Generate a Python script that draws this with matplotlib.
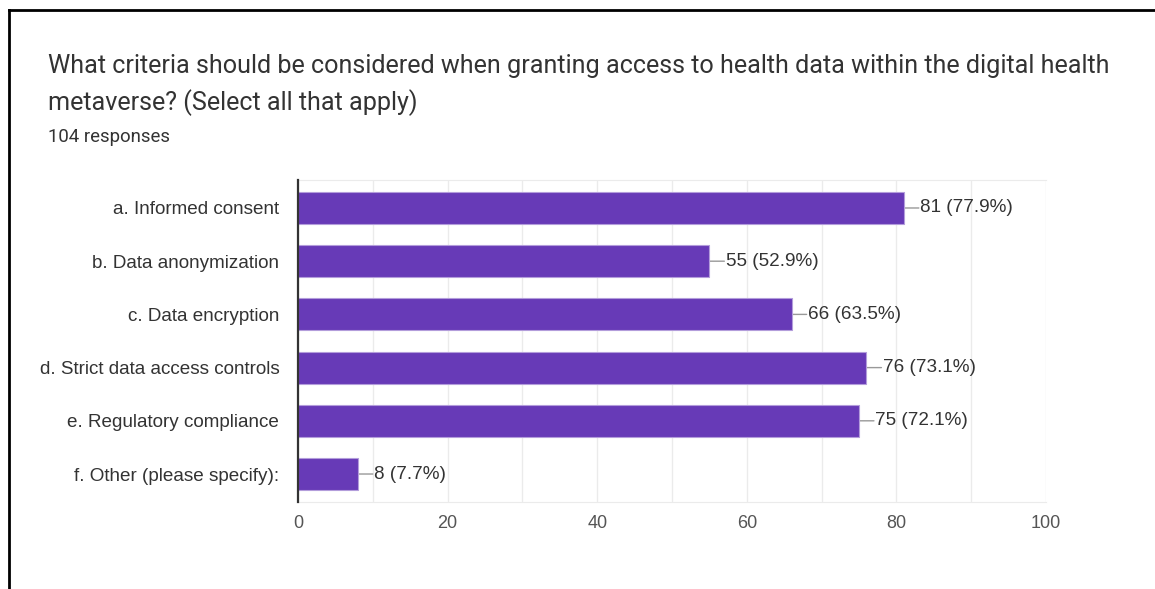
import matplotlib.pyplot as plt
from matplotlib.lines import Line2D

# survey answers, 104 responses
categories = ["a. Informed consent", "b. Data anonymization", "c. Data encryption",
              "d. Strict data access controls", "e. Regulatory compliance",
              "f. Other (please specify):"]
counts = [81, 55, 66, 76, 75, 8]
percents = [77.9, 52.9, 63.5, 73.1, 72.1, 7.7]
xticks = [0, 20, 40, 60, 80, 100]

purple = "#673ab7"

fig = plt.figure(figsize=(11.55, 5.89), dpi=100)
ax = fig.add_axes([298/1155, 1-502/589, (1046-298)/1155, 322/589])

pos = list(range(len(categories)))
ax.barh(pos, counts, height=0.6, color=purple, edgecolor="#b39ddb", linewidth=0.8, zorder=3)

for i in pos:
    ax.annotate("", xy=(counts[i], i), xytext=(counts[i] + 2.0, i),
                arrowprops=dict(arrowstyle="-", color="#999999", lw=1, shrinkA=0, shrinkB=0),
                zorder=2)
    ax.text(counts[i] + 2.2, i, "%d (%.1f%%)" % (counts[i], percents[i]),
            va="center", ha="left", fontsize=13.6, color="#333333", family="Liberation Sans")

ax.set_xlim(0, 100)
ax.set_ylim(len(categories) - 0.474, -0.526)
ax.set_xticks(xticks)
ax.set_xticks(range(0, 101, 10), minor=True)
ax.set_yticks(pos)
ax.set_yticklabels(categories, fontsize=13.6, color="#333333", family="Liberation Sans")
ax.set_xticklabels([str(t) for t in xticks], fontsize=13, color="#555555", family="Liberation Sans")
ax.tick_params(axis="both", which="both", length=0)
ax.tick_params(axis="y", pad=13.5)
ax.tick_params(axis="x", pad=9.5)
ax.grid(True, axis="x", which="both", color="#ebebeb", lw=1, zorder=0)

for s in ["top", "bottom", "right"]:
    ax.spines[s].set_color("#ebebeb")
ax.spines["right"].set_visible(False)
ax.spines["left"].set_color("#333333")
ax.spines["left"].set_linewidth(1.6)
ax.spines["left"].set_zorder(4)

fig.text(48/1155, 1-66/589, "What criteria should be considered when granting access to health data within the digital health",
         fontsize=18.1, color="#333333", family="Roboto", va="center")
fig.text(48/1155, 1-103/589, "metaverse? (Select all that apply)",
         fontsize=18.1, color="#333333", family="Roboto", va="center")
fig.text(48/1155, 1-137/589, "104 responses", fontsize=13.4, color="#333333", family="Roboto", va="center")

# outer frame, left and top edges
fig.add_artist(Line2D([9/1155, 9/1155], [0, 1-10/589], color="black", lw=2))
fig.add_artist(Line2D([9/1155, 1], [1-10/589, 1-10/589], color="black", lw=2))

fig.savefig("out.png", dpi=100)
